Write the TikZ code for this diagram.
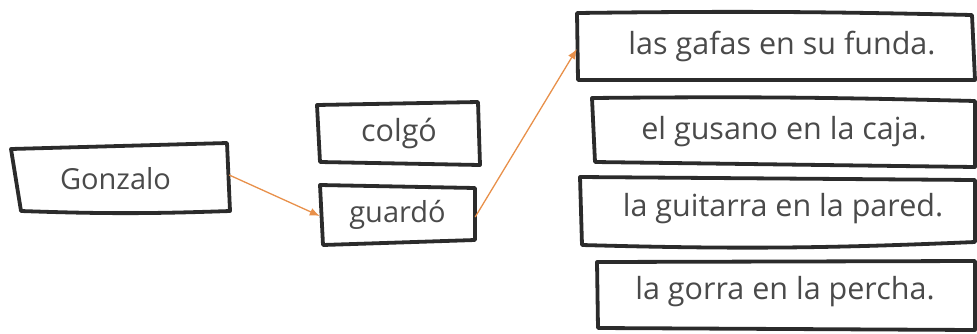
\documentclass[tikz,border=0pt]{standalone}
\usepackage{fontspec}
\setmainfont{Open Sans}
\usetikzlibrary{arrows.meta}
\definecolor{ink}{HTML}{2B2B2B}
\definecolor{txt}{HTML}{4A4A4A}
\definecolor{arrowc}{HTML}{E8904A}
\begin{document}
\begin{tikzpicture}[x=1pt,y=-1pt,
  outline/.style={draw=ink,line width=3.8pt,line join=round,line cap=round},
  lbl/.style={inner sep=0pt,anchor=center,text=txt},
  small/.style={font=\fontsize{29}{33}\selectfont},
  big/.style={font=\fontsize{30.5}{35}\selectfont},
  conn/.style={draw=arrowc,line width=1.3pt,-{Latex[length=10pt,width=8pt]}}]
\useasboundingbox (0,0) rectangle (977,333);
% outlines
\draw[outline] (11,149) -- (227,143) -- (230,211) to[bend left=2] (21,211) -- cycle;
\draw[outline] (317,105) -- (478,102) -- (480,165) -- (320,162) -- cycle;
\draw[outline] (320,185) -- (475,188) -- (475,240) -- (323,245) -- cycle;
\draw[outline] (577,13) to[bend left=1] (972,15) -- (975,80) -- (578,80) -- cycle;
\draw[outline] (592,98) to[bend left=1] (975,101) -- (975,167) -- (595,162) -- cycle;
\draw[outline] (580,177) -- (975,180) -- (975,242) to[bend left=2] (582,245) -- cycle;
\draw[outline] (597,262) -- (975,261) -- (975,330) -- (598,328) -- cycle;
% text nodes
\node[lbl,small,minimum width=218pt,minimum height=64pt] (gon) at (120,179) {\hspace*{-9pt}Gonzalo};
\node[lbl,small,font=\fontsize{30.5}{35}\selectfont,minimum width=161pt,minimum height=60pt] (col) at (399,133) {colgó};
\node[lbl,small,minimum width=155pt,minimum height=57pt] (gua) at (397.5,215) {guardó};
\node[lbl,big,minimum width=398pt,minimum height=67pt] (gaf) at (776,46) {\hspace*{12pt}las gafas en su funda.};
\node[lbl,big] (gus) at (784,132) {el gusano en la caja.};
\node[lbl,big] (gui) at (783,209) {la guitarra en la pared.};
\node[lbl,big] (gor) at (785,292) {la gorra en la percha.};
% connectors
\draw[conn] ([yshift=4pt]gon.east) -- ([yshift=-1pt]gua.west);
\draw[conn] ([yshift=-2pt]gua.east) -- ([yshift=-3pt]gaf.west);
\end{tikzpicture}
\end{document}
